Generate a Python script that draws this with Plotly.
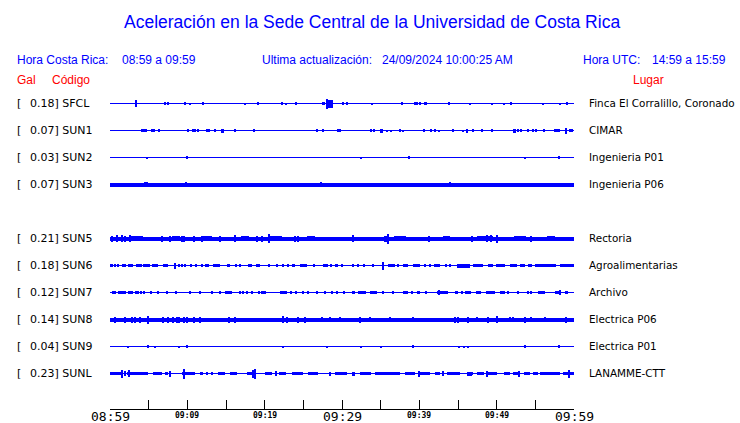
import plotly.graph_objects as go

# ---------------- data ----------------
codes = ["SFCL", "SUN1", "SUN2", "SUN3", "SUN5", "SUN6", "SUN7", "SUN8", "SUN9", "SUNL"]
gal = [0.18, 0.07, 0.03, 0.07, 0.21, 0.18, 0.12, 0.14, 0.04, 0.23]
places = ["Finca El Corralillo, Coronado", "CIMAR", "Ingenieria P01", "Ingenieria P06",
          "Rectoria", "Agroalimentarias", "Archivo", "Electrica P06", "Electrica P01", "LANAMME-CTT"]

# continuous background noise half-amplitude of each trace (trace units)
noise = [0.5, 0.5, 0.5, 2.0, 2.0, 0.5, 0.5, 2.0, 0.5, 0.5]

# bursts: (minute after 08:59, half-amplitude, duration in minutes)
bursts_SFCL = [(3.45, 3.5, 0.2), (7.15, 1.5, 0.13), (7.53, 1.5, 0.13), (9.7, 1.5, 0.26), (10.3, 1, 0.13),
               (12.0, 1.5, 0.26), (17.4, 1, 0.13), (19.2, 1.5, 0.13), (22.3, 1.5, 0.13), (22.8, 1, 0.13),
               (24.0, 1.5, 0.13), (27.6, 1.5, 0.5), (28.35, 4, 0.9), (28.1, 5, 0.13), (30.1, 1.5, 0.26),
               (30.6, 1.5, 0.13), (33.9, 1, 0.13), (37.8, 1.5, 0.13), (39.4, 1.5, 0.13), (39.65, 1.5, 0.13),
               (40.05, 1.5, 0.13), (40.8, 1.5, 0.5), (43.9, 1.5, 0.13), (46.6, 1, 0.13), (49.4, 1, 0.2),
               (50.9, 1, 0.13), (51.9, 1.5, 0.2), (56.0, 1, 0.13), (58.2, 1, 0.13), (59.1, 1.5, 0.13)]
bursts_SUN1 = [(4.09, 1.5, 0.13), (4.44, 1.5, 0.13), (4.7, 1.5, 0.13), (5.39, 1.5, 0.13), (5.73, 1.5, 0.2),
               (6.38, 1.5, 0.13), (10.13, 1.5, 0.13), (10.86, 1.5, 0.4), (11.38, 1.5, 0.13), (12.5, 1.5, 0.13),
               (12.84, 1.5, 0.13), (13.62, 1.5, 0.13), (14.57, 2, 0.45), (16.2, 1.5, 0.13), (18.62, 1.5, 0.13),
               (26.8, 1.5, 0.13), (27.5, 1.5, 0.26), (29.5, 1.5, 0.13), (29.8, 1.5, 0.13), (33.8, 1.5, 0.13),
               (34.2, 1.5, 0.2), (35.1, 2, 0.35), (35.8, 1, 0.13), (36.3, 1, 0.13), (37.5, 1.5, 0.13),
               (37.9, 1, 0.13), (40.6, 1.5, 0.13), (41.5, 1.5, 0.13), (42.0, 1.5, 0.13), (42.5, 1, 0.13),
               (44.35, 1.5, 0.13), (45.6, 1, 0.13), (46.2, 2, 0.3), (46.9, 1.5, 0.13), (48.1, 1.5, 0.13),
               (49.4, 1.5, 0.13), (52.3, 2, 0.4), (52.8, 1.5, 0.13), (53.1, 1.5, 0.13), (54.0, 1.5, 0.13),
               (54.7, 1.5, 0.13), (55.05, 1.5, 0.13), (56.1, 1.5, 0.13), (57.5, 1.5, 0.13), (57.8, 1.5, 0.13),
               (58.1, 1.5, 0.13), (59.0, 3, 0.13), (59.6, 1.5, 0.5)]
bursts_SUN2 = [(4.83, 1, 0.13), (10.0, 1.5, 0.13), (32.4, 1, 0.13), (38.7, 1.5, 0.13), (53.7, 1, 0.13),
               (58.1, 1.5, 0.13)]
bursts_SUN3 = [(4.5, 2.5, 0.13), (4.8, 2.5, 0.2), (9.8, 2.5, 0.13), (27.3, 2.5, 0.13), (44.0, 2.5, 0.13)]
bursts_SUN5 = [(3.5, 2.5, 1.5), (8.5, 2.5, 1.0), (12.5, 2.5, 1.5), (17.5, 2.5, 1.0), (21.5, 2.5, 1.5),
               (26.0, 2.5, 1.0), (37.5, 2.5, 1.5), (43.5, 2.5, 1.0), (48.5, 2.5, 2.0), (53.0, 2.5, 1.5),
               (57.0, 2.5, 1.0),
               (0.3, 3, 0.13), (0.87, 3.5, 0.13), (1.6, 3.5, 0.13), (1.94, 3, 0.13), (2.59, 3.5, 0.2),
               (6.7, 3, 0.13), (7.76, 3, 0.13), (9.27, 3, 0.13), (9.57, 3, 0.13), (10.8, 3, 0.13),
               (11.85, 3, 0.13), (14.2, 3, 0.13), (16.2, 3.5, 0.2), (18.97, 3, 0.13), (19.6, 3, 0.13),
               (20.5, 4.5, 0.13), (23.9, 3, 0.13), (24.35, 3, 0.13), (31.4, 3.5, 0.2), (35.6, 3, 0.4),
               (36.0, 5, 0.2), (41.2, 3, 0.13), (46.8, 3, 0.13), (48.8, 3.5, 0.13), (49.3, 3.5, 0.13),
               (50.0, 4, 0.13), (54.5, 3, 0.13)]
bursts_SUN6 = [(0.0, 1.5, 0.13), (0.3, 1.5, 0.13), (0.65, 1.5, 0.13), (1.0, 1.5, 0.13), (1.8, 1.5, 0.43),
               (2.67, 1.5, 0.65), (3.75, 1.5, 0.65), (4.74, 1.5, 0.86), (5.82, 1.5, 0.86), (7.2, 1.5, 0.65),
               (8.4, 3, 0.13), (8.9, 1.5, 0.13), (9.27, 1.5, 0.13), (9.7, 1.5, 0.13), (10.5, 1.5, 0.13),
               (11.1, 1.5, 0.3), (11.85, 1.5, 0.13), (12.5, 1.5, 0.5), (13.8, 1.5, 0.86), (15.3, 1.5, 0.43),
               (16.3, 1.5, 0.35), (16.8, 1.5, 0.13), (18.1, 1.5, 0.43), (19.1, 1.5, 0.56), (20.5, 1.5, 0.13),
               (21.6, 1.5, 0.35), (22.4, 1.5, 0.13), (23.0, 1.5, 0.13), (23.7, 1.5, 0.43), (25.0, 1.5, 0.86),
               (26.4, 1.5, 0.3), (27.9, 1.5, 0.65), (28.6, 1.5, 0.13), (29.3, 1.5, 0.43), (30.0, 1.5, 0.13),
               (31.4, 1.5, 0.13), (32.1, 1.5, 0.13), (32.8, 1.5, 0.13), (34.05, 1.5, 0.13), (35.3, 4, 0.13),
               (36.4, 1.5, 0.86), (37.3, 1.5, 0.13), (38.2, 1.5, 0.65), (39.65, 1.5, 0.86), (40.7, 1.5, 0.13),
               (41.4, 1.5, 0.13), (42.3, 1.5, 0.78), (43.45, 1.5, 0.13), (43.96, 1.5, 0.13), (45.7, 2, 1.7),
               (47.6, 1.5, 1.3), (49.2, 1.5, 0.65), (50.5, 1.5, 1.1), (52.15, 1.5, 0.86), (53.3, 1.5, 0.65),
               (54.3, 1.5, 0.43), (56.3, 1.5, 2.8), (59.1, 1.5, 1.9)]
bursts_SUN7 = [(0.5, 1.5, 0.6), (1.55, 1.5, 0.95), (2.67, 1.5, 0.6), (3.5, 1.5, 0.6), (4.0, 1.5, 0.13),
               (4.44, 1.5, 0.13), (5.26, 1.5, 0.13), (6.16, 1.5, 0.13), (7.33, 1.5, 0.13), (8.6, 1.5, 0.2),
               (10.3, 1.5, 0.13), (11.6, 1.5, 0.13), (13.2, 1.5, 0.13), (14.2, 1.5, 0.13), (15.3, 1.5, 0.95),
               (16.8, 1.5, 0.13), (17.2, 1.5, 0.13), (17.7, 1.5, 0.13), (18.3, 1.5, 0.13), (19.3, 1.5, 0.13),
               (19.9, 1.5, 0.65), (22.4, 1.5, 0.86), (23.4, 1.5, 0.13), (24.1, 1.5, 0.13), (25.0, 1.5, 0.13),
               (25.6, 1.5, 0.13), (26.8, 1.5, 0.2), (27.8, 1.5, 0.13), (28.7, 1.5, 0.13), (29.3, 1.5, 0.13),
               (30.2, 1.5, 0.13), (31.5, 1.5, 0.43), (32.6, 1.5, 1.1), (34.05, 1.5, 0.86), (35.3, 1.5, 0.13),
               (36.6, 1.5, 0.13), (38.2, 1.5, 0.65), (39.0, 1.5, 0.13), (39.9, 1.5, 0.43), (40.9, 1.5, 0.13),
               (43.0, 1.5, 1.5), (42.5, 2.5, 0.13), (44.8, 1.5, 0.43), (45.5, 1.5, 0.13), (46.3, 1.5, 0.86),
               (47.7, 1.5, 0.65), (49.2, 1.5, 1.1), (50.7, 1.5, 0.65), (51.5, 1.5, 0.13), (52.8, 1.5, 0.13),
               (54.1, 1.5, 0.13), (54.5, 1.5, 0.13), (55.8, 1.5, 0.86), (57.85, 1.5, 0.65), (58.2, 2.5, 0.13),
               (59.05, 1.5, 0.43)]
bursts_SUN8 = [(0.65, 3, 0.13), (2.0, 3, 0.13), (2.8, 3, 0.13), (3.2, 3, 0.13), (3.9, 3, 0.13), (4.96, 4, 0.13),
               (6.9, 3, 0.13), (7.5, 3, 0.13), (8.2, 3, 0.13), (8.6, 3, 0.13), (8.9, 3, 0.13), (9.6, 3, 0.13),
               (10.0, 3, 0.13), (10.9, 3, 0.13), (11.6, 3, 0.13), (15.4, 3, 0.13), (16.2, 3, 0.13),
               (22.4, 3.5, 0.13), (22.9, 3, 0.13), (24.35, 3, 0.13), (25.2, 3, 0.13), (27.4, 2.5, 0.13),
               (28.4, 2.5, 0.13), (29.7, 2.5, 0.13), (32.3, 3, 0.2), (33.6, 2.5, 0.13), (36.2, 2.5, 0.13),
               (39.2, 2.5, 0.13), (44.6, 3, 0.2), (45.0, 3, 0.13), (46.3, 3, 0.13), (47.4, 2.5, 0.13),
               (48.9, 3, 0.13), (50.0, 3.5, 0.13), (51.7, 2.5, 0.13), (52.15, 2.5, 0.13), (53.7, 3, 0.2),
               (54.5, 2.5, 0.13), (56.25, 2.5, 0.13), (59.05, 3, 0.2)]
bursts_SUN9 = [(2.37, 1, 0.13), (4.96, 1.5, 0.13), (5.8, 1, 0.13), (8.9, 1, 0.13), (10.0, 1.5, 0.13),
               (22.4, 1, 0.13), (28.1, 1, 0.13), (32.4, 1, 0.13), (35.05, 1, 0.13), (39.2, 1.5, 0.13),
               (45.1, 1, 0.13), (45.8, 1, 0.13), (46.3, 1, 0.13), (53.7, 1.5, 0.13), (58.1, 1.5, 0.2)]
bursts_SUNL = [(0.75, 1.5, 1.5), (3.55, 1.5, 2.8), (6.15, 1.5, 1.1), (7.3, 1.5, 0.4), (10.15, 1.5, 1.7),
               (11.85, 1.5, 0.3), (12.5, 1.5, 0.3), (13.15, 1.5, 0.3), (14.45, 1.5, 0.9), (15.95, 1.5, 0.9),
               (18.2, 1.5, 1.05), (20.45, 1.5, 0.9), (22.3, 1.5, 1.0), (24.25, 1.5, 1.5), (26.25, 1.5, 1.3),
               (29.75, 1.5, 1.3), (30.2, 1.5, 0.9), (33.05, 1.5, 1.5), (35.9, 1.5, 3.2), (38.75, 1.5, 1.3),
               (40.75, 1.5, 1.3), (42.35, 1.5, 0.7), (44.4, 1.5, 1.75), (46.55, 1.5, 0.9), (47.85, 1.5, 0.9),
               (49.45, 1.5, 1.1), (51.3, 1.5, 0.8), (52.6, 1.5, 0.85), (53.9, 1.5, 0.85), (55.05, 1.5, 0.7),
               (56.9, 1.5, 2.6), (59.3, 1.5, 1.4),
               (1.6, 4, 0.13), (2.0, 2.5, 0.13), (2.46, 3.5, 0.13), (7.76, 3, 0.13), (9.57, 5, 0.2),
               (18.5, 4, 0.13), (18.75, 5, 0.13), (21.5, 2.5, 0.13), (28.45, 2, 0.13), (31.5, 2, 0.43),
               (39.9, 3, 0.13), (43.1, 2.5, 0.13), (46.5, 2, 0.6), (48.7, 3, 0.13), (52.9, 3, 0.13),
               (59.3, 4, 0.13)]
bursts = [bursts_SFCL, bursts_SUN1, bursts_SUN2, bursts_SUN3, bursts_SUN5,
          bursts_SUN6, bursts_SUN7, bursts_SUN8, bursts_SUN9, bursts_SUNL]

tick_minutes = [0, 5, 10, 15, 20, 25, 30, 35, 40, 45, 50, 55, 60]
label_minutes = [0, 10, 20, 30, 40, 50, 60]
label_text = ["08:59", "09:09", "09:19", "09:29", "09:39", "09:49", "09:59"]
label_major = [True, False, False, True, False, False, True]

# ---------------- layout helpers ----------------
W, H = 740, 423
L, R, T, B = 110, 166, 90, 14
PW, PH = W - L - R, H - T - B
ROW = 27
slots = [0, 1, 2, 3, 5, 6, 7, 8, 9, 10]  # SUN4 slot is empty
Y_TOP = 13.5
Y_BOT = Y_TOP - PH
BLUE = "#0000ff"
RED = "#ff0000"


def pxx(p):
    return (p - L) / PW


def pxy(p):
    return (H - B - p) / PH


fig = go.Figure()
for i, code in enumerate(codes):
    off = -slots[i] * ROW
    xs = [30] + [b[0] for b in bursts[i]]
    ws = [60] + [b[2] for b in bursts[i]]
    amps = [noise[i]] + [b[1] for b in bursts[i]]
    fig.add_trace(go.Bar(
        x=xs, width=ws, base=[off - a for a in amps], y=[2 * a for a in amps],
        marker=dict(color=BLUE, line=dict(width=0)), name=code, showlegend=False,
        hoverinfo="skip"))

ann = []


def text(t, x, y, color="black", size=12, family="Liberation Sans, Arial", xanchor="left",
         xref="paper", yref="paper"):
    ann.append(dict(text=t, x=x, y=y, xref=xref, yref=yref, showarrow=False, xanchor=xanchor,
                    yanchor="middle", font=dict(color=color, size=size, family=family)))


text("Aceleración en la Sede Central de la Universidad de Costa Rica", pxx(372), pxy(22), BLUE, 17.5,
     xanchor="center")
text("Hora Costa Rica:", pxx(15), pxy(60), BLUE)
text("08:59 a 09:59", pxx(120), pxy(60), BLUE)
text("Ultima actualización:", pxx(260), pxy(60), BLUE)
text("24/09/2024 10:00:25 AM", pxx(380), pxy(60), BLUE)
text("Hora UTC:", pxx(581), pxy(60), BLUE)
text("14:59 a 15:59", pxx(650), pxy(60), BLUE)
text("Gal", pxx(15), pxy(80), RED)
text("Código", pxx(50), pxy(80), RED)
text("Lugar", pxx(631), pxy(80), RED)

for i, code in enumerate(codes):
    off = -slots[i] * ROW
    text("[", pxx(15), off + 0.5, size=11, family="DejaVu Sans", yref="y")
    text(f"{gal[i]:.2f}] {code}", pxx(27.5), off + 0.5, size=11, family="DejaVu Sans", yref="y")
    text(places[i], pxx(587), off + 0.5, size=10.4, family="DejaVu Sans", yref="y")

for m, t, big in zip(label_minutes, label_text, label_major):
    if big:
        text(t, m, pxy(417), size=13, family="DejaVu Sans Mono", xanchor="center", xref="x")
    else:
        text("<b>" + t + "</b>", m, pxy(415.5), size=8, family="DejaVu Sans Mono", xanchor="center",
             xref="x")

fig.update_layout(
    width=W, height=H, margin=dict(l=L, r=R, t=T, b=B, pad=0),
    paper_bgcolor="white", plot_bgcolor="white", barmode="overlay", bargap=0,
    annotations=ann,
    xaxis=dict(range=[0, 60], tickmode="array", tickvals=tick_minutes, showticklabels=False,
               ticks="inside", ticklen=9, tickcolor="black", tickwidth=1, showline=True,
               linecolor="black", linewidth=1, showgrid=False, zeroline=False, fixedrange=True),
    yaxis=dict(range=[Y_BOT, Y_TOP], visible=False, fixedrange=True),
)
fig.write_html("out.html", config={"displayModeBar": False},
               post_script="document.body.style.margin='0px';document.body.style.overflow='hidden';")
